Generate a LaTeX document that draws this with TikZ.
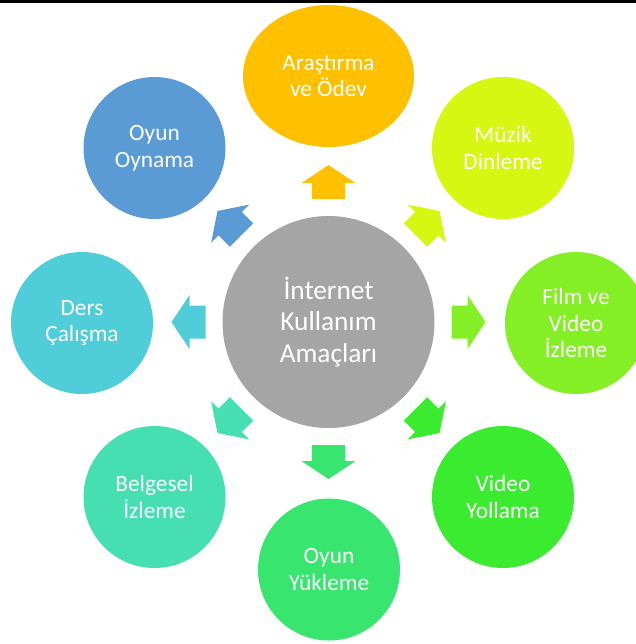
\documentclass[tikz,border=0pt]{standalone}
\usepackage{fontspec}
\setmainfont{Carlito}
\usetikzlibrary{shapes.geometric}
\definecolor{cArs}{HTML}{FFC000}
\definecolor{cMuz}{HTML}{D5F712}
\definecolor{cFilm}{HTML}{84EF24}
\definecolor{cYol}{HTML}{3BEB2F}
\definecolor{cYuk}{HTML}{37E56F}
\definecolor{cBel}{HTML}{45DFB1}
\definecolor{cDers}{HTML}{4FCDD8}
\definecolor{cOyn}{HTML}{5B9BD5}
\definecolor{cMid}{HTML}{A5A5A5}
\tikzset{
  sat/.style={circle, fill=#1, draw=none, minimum size=106.5pt, inner sep=0pt,
    text=white, align=center, font=\fontsize{17.5}{20}\selectfont},
  hub/.style={circle, fill=cMid, draw=none, minimum size=159pt, inner sep=0pt,
    text=white, align=center, font=\fontsize{20.5}{23.5}\selectfont},
  blockarrow/.style={fill=#1, draw=none}
}
\begin{document}
\begin{tikzpicture}[x=0.75pt,y=-0.75pt]
\useasboundingbox (0,0) rectangle (636,644);
\fill[black] (0,0) rectangle (636,2.7);
\node[hub] (hub) at (328.5,322) {İnternet\\Kullanım\\Amaçları};
\node[sat=cArs, ellipse, minimum width=128.25pt, minimum height=106.5pt] (ars) at (328.5,76) {Araştırma\\ve Ödev};
\node[sat=cMuz] (muz) at (503,148) {Müzik\\Dinleme};
\node[sat=cFilm] (film) at (576,323) {Film ve\\Video\\İzleme};
\node[sat=cYol] (yol) at (503,497) {Video\\Yollama};
\node[sat=cYuk] (yuk) at (329,569.5) {Oyun\\Yükleme};
\node[sat=cBel] (bel) at (154.5,497) {Belgesel\\İzleme};
\node[sat=cDers] (ders) at (82,323) {Ders\\Çalışma};
\node[sat=cOyn] (oyn) at (154.5,148) {Oyun\\Oynama};
\foreach \ang/\col in {90/cArs,45/cMuz,0/cFilm,-45/cYol,-90/cYuk,-135/cBel,180/cDers,135/cOyn}{
  \begin{scope}[shift={(hub.center)}, rotate=\ang]
    \fill[blockarrow=\col] (123,-16.5) -- (139,-16.5) -- (139,-27) -- (157,0)
      -- (139,27) -- (139,16.5) -- (123,16.5) -- cycle;
  \end{scope}
}
\end{tikzpicture}
\end{document}
